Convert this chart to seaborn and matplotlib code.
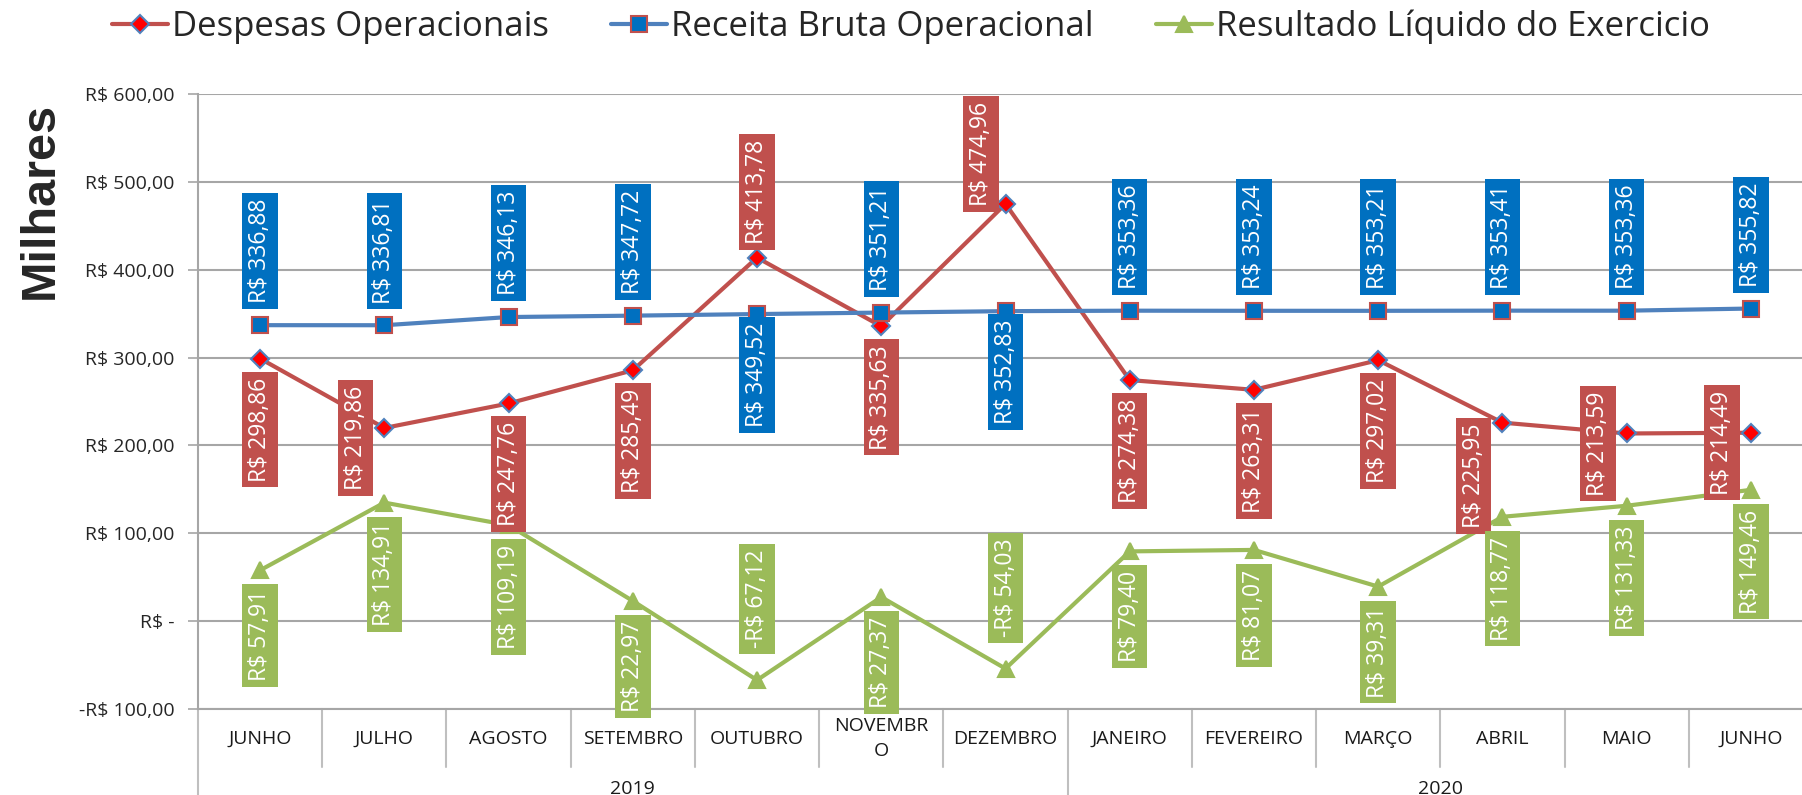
import numpy as np
import pandas as pd
import seaborn as sns
import matplotlib.pyplot as plt
from matplotlib.lines import Line2D
import matplotlib.transforms as mtransforms

months = ['JUNHO', 'JULHO', 'AGOSTO', 'SETEMBRO', 'OUTUBRO', 'NOVEMBR\nO', 'DEZEMBRO',
          'JANEIRO', 'FEVEREIRO', 'MARÇO', 'ABRIL', 'MAIO', 'JUNHO']
years = ['2019'] * 7 + ['2020'] * 6
despesas = [298.86, 219.86, 247.76, 285.49, 413.78, 335.63, 474.96,
            274.38, 263.31, 297.02, 225.95, 213.59, 214.49]
receita = [336.88, 336.81, 346.13, 347.72, 349.52, 351.21, 352.83,
           353.36, 353.24, 353.21, 353.41, 353.36, 355.82]
resultado = [57.91, 134.91, 109.19, 22.97, -67.12, 27.37, -54.03,
             79.40, 81.07, 39.31, 118.77, 131.33, 149.46]
yticks = [-100, 0, 100, 200, 300, 400, 500, 600]
ytick_labels = ['-R$ 100,00', 'R$ -', 'R$ 100,00', 'R$ 200,00', 'R$ 300,00',
                'R$ 400,00', 'R$ 500,00', 'R$ 600,00']

# label placement per point: a=above, b=below, l=left, la/lb=left raised/lowered
desp_pos = ['b', 'l', 'b', 'b', 'a', 'b', 'la', 'b', 'b', 'b', 'lb', 'l', 'l']
rec_pos = ['a', 'a', 'a', 'a', 'b', 'a', 'b', 'a', 'a', 'a', 'a', 'a', 'a']
res_pos = ['b', 'b', 'b', 'b', 'a', 'b', 'a', 'b', 'b', 'b', 'b', 'b', 'b']

df = pd.DataFrame({'pos': np.arange(len(months)), 'mes': months, 'ano': years,
                   'Despesas Operacionais': despesas,
                   'Receita Bruta Operacional': receita,
                   'Resultado Líquido do Exercicio': resultado})

sns.set_style('white')
plt.rcParams['font.family'] = ['Open Sans', 'DejaVu Sans']

fig = plt.figure(figsize=(18.02, 7.95), dpi=100)
ax = fig.add_axes([198 / 1802, 86 / 795, 1615 / 1802, 615 / 795])

RED, BLUE, GREEN = '#C0504D', '#4F81BD', '#9BBB59'
series = [
    ('Despesas Operacionais', RED, 'D', '#FF0000', BLUE, 9, desp_pos, RED, 8, 13),
    ('Receita Bruta Operacional', BLUE, 's', '#0070C0', RED, 11, rec_pos, '#0070C0', 16, 3),
    ('Resultado Líquido do Exercicio', GREEN, '^', GREEN, GREEN, 12, res_pos, GREEN, 26, 14),
]
lab_size = 16.5
lab_pad = 0.25
pad_px = lab_pad * lab_size / 0.72

handles = []
for name, lc, mk, mfc, mec, ms, pos, boxc, gap_a, gap_b in series:
    sns.lineplot(data=df, x='pos', y=name, ax=ax, color=lc, lw=3, marker=mk,
                 markersize=ms, markerfacecolor=mfc, markeredgecolor=mec,
                 markeredgewidth=1.5, zorder=3)
    handles.append(Line2D([], [], color=lc, lw=3, marker=mk, markersize=ms,
                          markerfacecolor=mfc, markeredgecolor=mec, markeredgewidth=1.5))
    for x, v, p in zip(df['pos'], df[name], pos):
        txt = ('-' if v < 0 else '') + f'R$ {abs(v):.2f}'.replace('.', ',')
        if p == 'a':
            off, ha, va = (0, gap_a + pad_px), 'center', 'bottom'
        elif p == 'b':
            off, ha, va = (0, -(gap_b + pad_px)), 'center', 'top'
        elif p == 'l':
            off, ha, va = (-11 - pad_px, -10), 'right', 'center'
        elif p == 'la':
            off, ha, va = (-7 - pad_px, 50), 'right', 'center'
        else:
            off, ha, va = (-11 - pad_px, -53), 'right', 'center'
        ax.annotate(txt, (x, v), xytext=(off[0] * 0.72, off[1] * 0.72),
                    textcoords='offset points', rotation=90, ha=ha, va=va,
                    fontsize=lab_size, color='white', zorder=5,
                    bbox=dict(boxstyle=f'square,pad={lab_pad}', fc=boxc, ec='none'))

ax.set_xlim(-0.5, len(months) - 0.5)
ax.set_ylim(-100, 600)
ax.set_yticks(yticks)
ax.set_yticklabels(ytick_labels, fontsize=14, color='#262626')
ax.tick_params(axis='y', length=7, width=1.2, color='#A6A6A6', pad=10, left=True)
ax.set_xticks([])
ax.set_xlabel('')
ax.set_ylabel('')
ax.yaxis.grid(True, color='#A6A6A6', lw=1.5)
ax.set_axisbelow(True)
for s in ['top', 'right']:
    ax.spines[s].set_visible(False)
ax.spines['left'].set_color('#A6A6A6')
ax.spines['left'].set_linewidth(1.5)
ax.spines['bottom'].set_color('#A6A6A6')
ax.spines['bottom'].set_linewidth(1.5)

# multi-level category axis
trans = mtransforms.blended_transform_factory(ax.transData, ax.transAxes)
for i, m in enumerate(months):
    ax.text(i, -0.048, m, transform=trans, ha='center', va='center',
            fontsize=14, color='#1a1a1a', linespacing=1.5, clip_on=False)
for k in range(len(months) + 1):
    x = k - 0.5
    long = k == 0 or years[k - 1] != years[min(k, len(years) - 1)]
    ax.plot([x, x], [0, -0.16 if long else -0.094], transform=trans,
            color='#BFBFBF', lw=1.5, clip_on=False)
yr_names = list(dict.fromkeys(years))
for y in yr_names:
    idx = [i for i, v in enumerate(years) if v == y]
    ax.text(np.mean(idx), -0.116, y, transform=trans, ha='center', va='top',
            fontsize=14, color='#1a1a1a', clip_on=False)

fig.text(40 / 1802, 1 - 200 / 795, 'Milhares', rotation=90, fontsize=35,
         fontweight='bold', family=['Liberation Sans', 'DejaVu Sans'],
         ha='center', va='center')

fig.legend(handles, [s[0] for s in series], loc='center',
           bbox_to_anchor=(911 / 1802, 1 - 27 / 795), ncol=3, frameon=False,
           fontsize=25, handlelength=1.6, handletextpad=0.12, columnspacing=1.8)

fig.savefig('out.png', dpi=100)
